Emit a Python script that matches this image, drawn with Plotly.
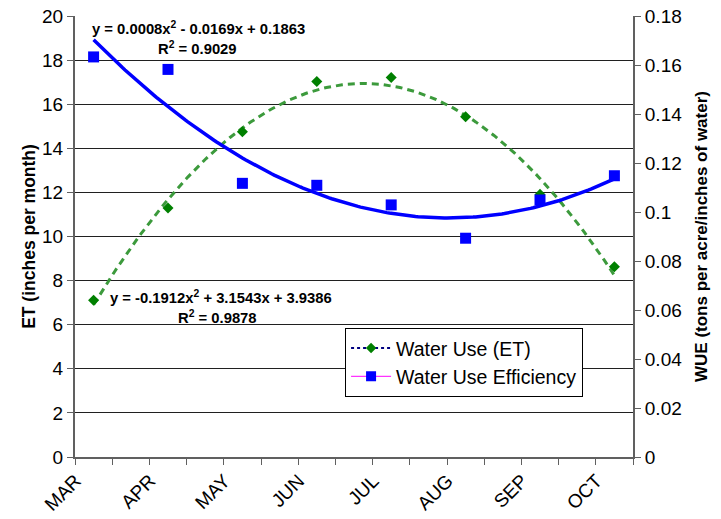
import numpy as np
import plotly.graph_objects as go

months = ["MAR", "APR", "MAY", "JUN", "JUL", "AUG", "SEP", "OCT"]
et_values = [7.11, 11.29, 14.75, 17.03, 17.21, 15.43, 11.91, 8.63]
wue_values = [0.1633, 0.1582, 0.1117, 0.1109, 0.1029, 0.0893, 0.1049, 0.1148]
left_ticks = [0, 2, 4, 6, 8, 10, 12, 14, 16, 18, 20]
right_ticks = [0, 0.02, 0.04, 0.06, 0.08, 0.1, 0.12, 0.14, 0.16, 0.18]
right_tick_text = ["0", "0.02", "0.04", "0.06", "0.08", "0.1", "0.12", "0.14", "0.16", "0.18"]
eq_et = "y = -0.1912x<sup>2</sup> + 3.1543x + 3.9386"
r2_et = "R<sup>2</sup> = 0.9878"
eq_wue = "y = 0.0008x<sup>2</sup> - 0.0169x + 0.1863"
r2_wue = "R<sup>2</sup> = 0.9029"

FONT = "Liberation Sans, Arial, sans-serif"
AXIS_GRAY = "#606060"

# category positions: each month spans two minor intervals, point at the centre
idx = np.arange(len(months))
xpos = 0.5 + 2 * idx
n_minor = 2 * len(months) - 1

# quadratic trendlines fitted to the data
fine = np.linspace(0, len(months) - 1, 200)
et_fit = np.polyval(np.polyfit(idx, et_values, 2), fine)
wue_fit = np.polyval(np.polyfit(idx, wue_values, 2), fine)
xfine = 0.5 + 2 * fine

fig = go.Figure()

fig.add_trace(go.Scatter(x=xfine, y=et_fit, mode="lines",
                         line=dict(color="#3c9a3c", width=3, dash="7px,5px"),
                         showlegend=False, hoverinfo="skip"))
fig.add_trace(go.Scatter(x=xfine, y=wue_fit, mode="lines", yaxis="y2",
                         line=dict(color="#0000ff", width=3.5),
                         showlegend=False, hoverinfo="skip"))
fig.add_trace(go.Scatter(x=xpos, y=et_values, mode="markers",
                         marker=dict(symbol="diamond", color="#008000", size=8.5),
                         showlegend=False))
fig.add_trace(go.Scatter(x=xpos, y=wue_values, mode="markers", yaxis="y2",
                         marker=dict(symbol="square", color="#0000ff", size=11),
                         showlegend=False))

# legend entries
fig.add_trace(go.Scatter(x=[None], y=[None], mode="lines+markers", name="Water Use (ET)",
                         line=dict(color="#000080", width=2, dash="dot"),
                         marker=dict(symbol="diamond", color="#008000", size=8)))
fig.add_trace(go.Scatter(x=[None], y=[None], mode="lines+markers", name="Water Use Efficiency",
                         line=dict(color="#ff00ff", width=1),
                         marker=dict(symbol="square", color="#0000ff", size=10)))

fig.add_trace(go.Scatter(x=[None], y=[None], xaxis="x2", showlegend=False, hoverinfo="skip"))

fig.update_layout(
    width=721, height=519,
    margin=dict(l=75, r=88, t=16, b=62),
    paper_bgcolor="white", plot_bgcolor="white",
    font=dict(family=FONT, size=19, color="black"),
    xaxis=dict(range=[0, n_minor], tickmode="array", tickvals=list(range(n_minor + 1)),
               ticktext=[""] * (n_minor + 1), ticks="outside", ticklen=6,
               tickcolor=AXIS_GRAY, tickwidth=1, showgrid=False, zeroline=False,
               showline=True, linecolor=AXIS_GRAY, linewidth=2, automargin=False),
    xaxis2=dict(range=[0, n_minor], overlaying="x", side="bottom", anchor="y",
                tickmode="array", tickvals=xpos, ticktext=months,
                tickangle=-45, ticks="", showgrid=False, zeroline=False,
                showline=False, tickfont=dict(size=19), automargin=False,
                ticklabelstandoff=8, ticklabelshift=-18),
    yaxis=dict(range=[0, 20], tickmode="array", tickvals=left_ticks,
               ticks="outside", ticklen=6, tickcolor=AXIS_GRAY,
               showgrid=True, gridcolor="#202020", gridwidth=1, zeroline=False,
               showline=True, linecolor=AXIS_GRAY, linewidth=2, automargin=False,
               title=dict(text="<b>ET (inches per month)</b>", font=dict(size=17.5), standoff=2)),
    yaxis2=dict(range=[0, 0.18], overlaying="y", side="right", tickmode="array",
                tickvals=right_ticks, ticktext=right_tick_text,
                ticks="outside", ticklen=6, tickcolor=AXIS_GRAY,
                showgrid=False, zeroline=False, automargin=False,
                showline=True, linecolor=AXIS_GRAY, linewidth=2,
                title=dict(text="<b>WUE (tons per acre/inches of water)</b>", font=dict(size=17), standoff=14)),
    legend=dict(x=0.484, y=0.293, xanchor="left", yanchor="top",
                bgcolor="white", bordercolor="black", borderwidth=1,
                font=dict(size=19.5), itemwidth=40, tracegroupgap=0),
    showlegend=True,
)

fig.add_annotation(x=0.40, y=19.46, xref="x", yref="y", text="<b>" + eq_wue + "</b>",
                   showarrow=False, xanchor="left", font=dict(size=14.8))
fig.add_annotation(x=3.28, y=18.55, xref="x", yref="y", text="<b>" + r2_wue + "</b>",
                   showarrow=False, xanchor="center", font=dict(size=14.8))
fig.add_annotation(x=0.89, y=7.27, xref="x", yref="y", text="<b>" + eq_et + "</b>",
                   showarrow=False, xanchor="left", font=dict(size=14.8))
fig.add_annotation(x=3.84, y=6.35, xref="x", yref="y", text="<b>" + r2_et + "</b>",
                   showarrow=False, xanchor="center", font=dict(size=14.8))

fig.write_html("out.html")
